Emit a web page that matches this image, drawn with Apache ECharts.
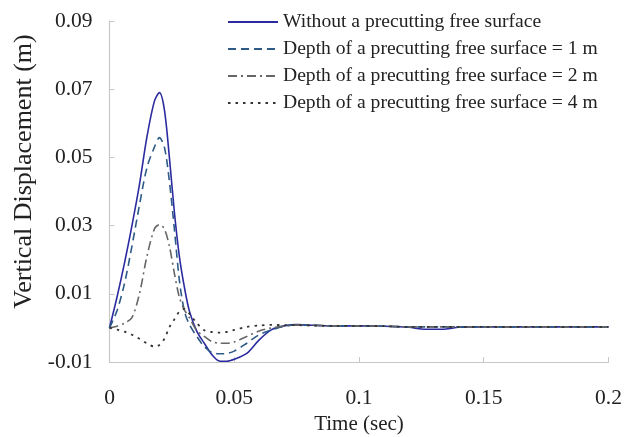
<!DOCTYPE html>
<html><head><meta charset="utf-8">
<script src="https://cdn.jsdelivr.net/npm/echarts@6/dist/echarts.min.js"></script>
<style>html,body{margin:0;padding:0;background:#fff}#c{width:634px;height:437px}</style>
</head><body><div id="c"></div>
<script>
const times = [0, 0.003, 0.006, 0.009, 0.012, 0.015, 0.018, 0.020, 0.022, 0.024, 0.026, 0.028, 0.030, 0.032, 0.035, 0.038, 0.041, 0.044, 0.047, 0.050, 0.055, 0.060, 0.065, 0.070, 0.075, 0.080, 0.090, 0.100, 0.110, 0.120, 0.125, 0.130, 0.135, 0.140, 0.150, 0.160, 0.170, 0.180, 0.190, 0.200];
const seriesNames = ['Without a precutting free surface', 'Depth of a precutting free surface = 1 m', 'Depth of a precutting free surface = 2 m', 'Depth of a precutting free surface = 4 m'];
const noSurface = [0, 0.009, 0.019, 0.030, 0.042, 0.056, 0.0665, 0.069, 0.064, 0.050, 0.034, 0.021, 0.012, 0.005, -0.001, -0.0045, -0.0078, -0.0097, -0.0098, -0.0092, -0.0075, -0.0035, -0.0005, 0.0006, 0.001, 0.0008, 0.0006, 0.0006, 0.0005, 0.0002, -0.0003, -0.0004, -0.0003, 0.0002, 0.0003, 0.0003, 0.0003, 0.0003, 0.0003, 0.0003];
const depth1 = [0, 0.005, 0.013, 0.024, 0.036, 0.047, 0.053, 0.0558, 0.053, 0.043, 0.029, 0.014, 0.005, 0.001, -0.0025, -0.0055, -0.0072, -0.0076, -0.0075, -0.0068, -0.0045, -0.002, -0.0006, 0.0005, 0.0009, 0.0008, 0.0006, 0.0006, 0.0005, 0.0003, 0.0003, 0.0003, 0.0003, 0.0003, 0.0003, 0.0003, 0.0003, 0.0003, 0.0003, 0.0003];
const depth2 = [0, 0.0005, 0.0014, 0.003, 0.010, 0.021, 0.029, 0.0303, 0.029, 0.024, 0.016, 0.009, 0.0053, 0.003, -0.0008, -0.0025, -0.004, -0.0045, -0.0045, -0.0041, -0.0025, -0.0009, 0.0, 0.0005, 0.0008, 0.0008, 0.0006, 0.0006, 0.0005, 0.0003, 0.0003, 0.0003, 0.0003, 0.0003, 0.0003, 0.0003, 0.0003, 0.0003, 0.0003, 0.0003];
const depth4 = [0, -0.0005, -0.0011, -0.002, -0.0032, -0.0045, -0.0055, -0.005, -0.0032, 0.0002, 0.0025, 0.0048, 0.0056, 0.0042, 0.0014, -0.0007, -0.0012, -0.0014, -0.0012, -0.0006, 0.0003, 0.0007, 0.0009, 0.0008, 0.0008, 0.0007, 0.0006, 0.0006, 0.0005, 0.0003, 0.0003, 0.0003, 0.0003, 0.0003, 0.0003, 0.0003, 0.0003, 0.0003, 0.0003, 0.0003];
const xTicks = [0, 0.05, 0.1, 0.15, 0.2];
const yTicks = [-0.01, 0.01, 0.03, 0.05, 0.07, 0.09];

const allValues = [noSurface, depth1, depth2, depth4];
const styles = [
  {color: '#2b2ba0', width: 1.6, type: 'solid'},
  {color: '#2d5a86', width: 1.6, type: [8, 5]},
  {color: '#666666', width: 1.6, type: [9, 4, 2, 4]},
  {color: '#333333', width: 1.8, type: [2.5, 5]}
];
const font = '"Liberation Serif", "Times New Roman", serif';
const chart = echarts.init(document.getElementById('c'));
chart.setOption({
  animation: false,
  backgroundColor: '#fff',
  grid: {left: 109.5, right: 25.5, top: 21, bottom: 75, containLabel: false, outerBoundsMode: 'none'},
  legend: {
    orient: 'vertical', left: 222, top: 7, itemWidth: 50, itemHeight: 12, itemGap: 7,
    itemStyle: {opacity: 0},
    textStyle: {fontFamily: font, fontSize: 19.6, color: '#222'},
    data: seriesNames
  },
  xAxis: {
    type: 'value', min: 0, max: 0.2, interval: 0.05,
    name: 'Time (sec)', nameLocation: 'middle', nameGap: 48,
    nameTextStyle: {fontFamily: font, fontSize: 21, color: '#222'},
    axisLine: {onZero: false, lineStyle: {color: '#c8c8c8', width: 1.2}},
    axisTick: {inside: true, length: 5, lineStyle: {color: '#c8c8c8'}},
    splitLine: {show: false},
    axisLabel: {fontFamily: font, fontSize: 21.5, color: '#222', margin: 25,
      formatter: v => { const m = xTicks.find(t => Math.abs(t - v) < 1e-9); return m === undefined ? '' : String(m); }}
  },
  yAxis: {
    type: 'value', min: -0.01, max: 0.09, interval: 0.02,
    name: 'Vertical Displacement (m)', nameLocation: 'middle', nameGap: 72,
    nameTextStyle: {fontFamily: font, fontSize: 26, color: '#222', padding: [0, 0, 0, 40]},
    axisLine: {show: true, onZero: false, lineStyle: {color: '#c8c8c8', width: 1.2}},
    axisTick: {show: true, inside: true, length: 5, lineStyle: {color: '#c8c8c8'}},
    splitLine: {show: false},
    axisLabel: {fontFamily: font, fontSize: 21.5, color: '#222', margin: 17,
      formatter: v => { const m = yTicks.find(t => Math.abs(t - v) < 1e-9); return m === undefined ? '' : m.toFixed(2); }}
  },
  series: allValues.map((vals, i) => ({
    name: seriesNames[i], type: 'line', symbol: 'none', smooth: 0.3,
    lineStyle: styles[i], itemStyle: {color: styles[i].color},
    data: times.map((t, j) => [t, vals[j]])
  }))
});
</script></body></html>
